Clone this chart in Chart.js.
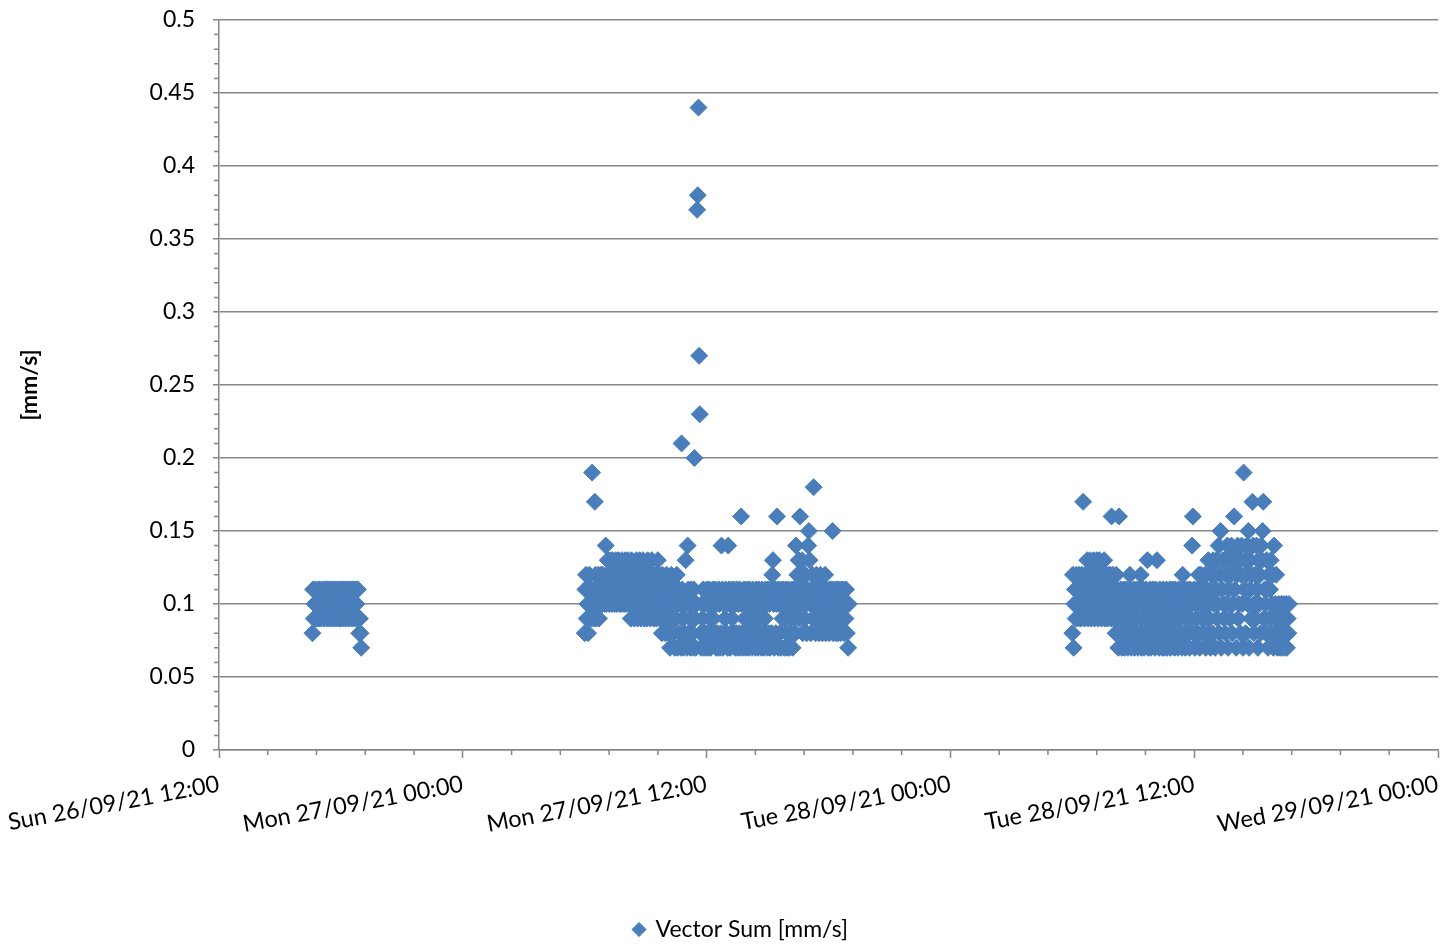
<!DOCTYPE html>
<html>
<head>
<meta charset="utf-8">
<script src="https://cdn.jsdelivr.net/npm/chart.js@4/dist/chart.umd.min.js"></script>
<style>
  html, body { margin: 0; padding: 0; background: #ffffff; }
  #wrap { width: 1443px; height: 946px; position: relative; }
</style>
</head>
<body>
<div id="wrap"><canvas id="c" width="1443" height="946"></canvas></div>
<script>
// ---------------- DATA ----------------
const seriesLabel = 'Vector Sum [mm/s]';
const yAxisTitle = '[mm/s]';
const xTickLabels = [
  'Sun 26/09/21 12:00', 'Mon 27/09/21 00:00', 'Mon 27/09/21 12:00',
  'Tue 28/09/21 00:00', 'Tue 28/09/21 12:00', 'Wed 29/09/21 00:00'
];
const axisOrigin = '26 12:00';          // day-of-month + time at x = 0
const axisSpanHours = 60;
const sampleStepMinutes = 2;            // logger interval

// Run 1: Sun 26/09 16:36 - 19:00 (every 2 min)
const run1Start = '26 16:36';
const run1Values = [
  0.08, 0.11, 0.09, 0.10, 0.11, 0.09, 0.10, 0.09, 0.11, 0.10, 0.09, 0.11, 0.10, 0.09, 0.10,
  0.11, 0.10, 0.09, 0.11, 0.10, 0.11, 0.09, 0.10, 0.11, 0.09, 0.10, 0.11, 0.10, 0.09, 0.11,
  0.10, 0.09, 0.11, 0.10, 0.11, 0.09, 0.10, 0.11, 0.10, 0.09, 0.11, 0.10, 0.09, 0.11, 0.10,
  0.11, 0.09, 0.10, 0.11, 0.10, 0.09, 0.11, 0.10, 0.11, 0.09, 0.10, 0.11, 0.10, 0.09, 0.11,
  0.10, 0.11, 0.09, 0.10, 0.11, 0.10, 0.09, 0.11, 0.09, 0.08, 0.09, 0.08, 0.07
];

// Run 2: Mon 27/09 06:00 - 19:00 (every 2 min)
const run2Start = '27 06:00';
const run2Values = [
  0.08, 0.11, 0.12, 0.09, 0.10, 0.08, 0.11, 0.12, 0.10, 0.09, 0.11, 0.19, 0.10, 0.09, 0.11,
  0.17, 0.12, 0.09, 0.11, 0.10, 0.12, 0.09, 0.11, 0.10, 0.12, 0.11, 0.10, 0.12, 0.11, 0.10,
  0.11, 0.14, 0.10, 0.12, 0.13, 0.11, 0.10, 0.12, 0.13, 0.11, 0.10, 0.13, 0.12, 0.11, 0.10,
  0.12, 0.13, 0.10, 0.11, 0.12, 0.13, 0.10, 0.11, 0.12, 0.10, 0.13, 0.11, 0.12, 0.10, 0.11,
  0.13, 0.10, 0.12, 0.11, 0.13, 0.10, 0.12, 0.11, 0.09, 0.13, 0.10, 0.12, 0.11, 0.09, 0.12,
  0.10, 0.13, 0.11, 0.09, 0.12, 0.10, 0.13, 0.11, 0.09, 0.12, 0.10, 0.13, 0.11, 0.09, 0.12,
  0.10, 0.12, 0.09, 0.13, 0.11, 0.10, 0.12, 0.09, 0.11, 0.13, 0.10, 0.12, 0.09, 0.11, 0.10,
  0.12, 0.09, 0.11, 0.13, 0.10, 0.12, 0.09, 0.11, 0.10, 0.08, 0.12, 0.11, 0.09, 0.10, 0.08,
  0.11, 0.12, 0.09, 0.10, 0.08, 0.11, 0.07, 0.10, 0.12, 0.09, 0.11, 0.08, 0.10, 0.07, 0.11,
  0.09, 0.12, 0.07, 0.10, 0.11, 0.08, 0.10, 0.07, 0.21, 0.11, 0.09, 0.07, 0.10, 0.08, 0.13,
  0.10, 0.07, 0.14, 0.11, 0.08, 0.09, 0.07, 0.11, 0.10, 0.08, 0.07, 0.11, 0.20, 0.09, 0.07,
  0.10, 0.37, 0.38, 0.44, 0.27, 0.23, 0.08, 0.07, 0.10, 0.09, 0.11, 0.07, 0.08, 0.10, 0.07,
  0.11, 0.08, 0.10, 0.07, 0.11, 0.09, 0.07, 0.10, 0.08, 0.11, 0.09, 0.10, 0.08, 0.11, 0.07,
  0.10, 0.08, 0.07, 0.11, 0.10, 0.07, 0.08, 0.14, 0.11, 0.07, 0.10, 0.08, 0.09, 0.11, 0.10,
  0.08, 0.07, 0.14, 0.11, 0.10, 0.07, 0.08, 0.11, 0.09, 0.10, 0.08, 0.11, 0.07, 0.10, 0.08,
  0.11, 0.07, 0.10, 0.08, 0.11, 0.07, 0.16, 0.10, 0.08, 0.07, 0.11, 0.09, 0.10, 0.07, 0.11,
  0.08, 0.10, 0.07, 0.11, 0.09, 0.08, 0.10, 0.07, 0.11, 0.08, 0.09, 0.10, 0.07, 0.11, 0.08,
  0.10, 0.07, 0.11, 0.09, 0.08, 0.10, 0.07, 0.11, 0.08, 0.10, 0.07, 0.09, 0.11, 0.08, 0.10,
  0.07, 0.11, 0.08, 0.10, 0.07, 0.11, 0.08, 0.12, 0.13, 0.10, 0.07, 0.11, 0.08, 0.10, 0.16,
  0.11, 0.07, 0.10, 0.08, 0.11, 0.07, 0.10, 0.09, 0.11, 0.09, 0.07, 0.10, 0.11, 0.08, 0.07,
  0.10, 0.11, 0.07, 0.09, 0.10, 0.08, 0.11, 0.07, 0.10, 0.11, 0.09, 0.08, 0.14, 0.10, 0.12,
  0.11, 0.13, 0.09, 0.16, 0.12, 0.10, 0.13, 0.08, 0.11, 0.12, 0.09, 0.12, 0.10, 0.08, 0.11,
  0.14, 0.15, 0.13, 0.10, 0.08, 0.11, 0.12, 0.09, 0.18, 0.10, 0.11, 0.08, 0.12, 0.09, 0.10,
  0.11, 0.08, 0.10, 0.12, 0.09, 0.11, 0.08, 0.10, 0.11, 0.09, 0.12, 0.08, 0.10, 0.11, 0.09,
  0.10, 0.08, 0.11, 0.09, 0.10, 0.11, 0.15, 0.08, 0.10, 0.11, 0.09, 0.08, 0.10, 0.11, 0.08,
  0.11, 0.09, 0.10, 0.08, 0.11, 0.10, 0.09, 0.11, 0.08, 0.10, 0.09, 0.11, 0.08, 0.10, 0.07,
  0.10
];

// Run 3: Tue 28/09 06:00 - 16:40 (every 2 min)
const run3Start = '28 06:00';
const run3Values = [
  0.08, 0.12, 0.07, 0.10, 0.11, 0.09, 0.12, 0.10, 0.11, 0.09, 0.12, 0.10, 0.11, 0.09, 0.12,
  0.10, 0.17, 0.11, 0.09, 0.12, 0.10, 0.11, 0.13, 0.09, 0.12, 0.10, 0.13, 0.11, 0.09, 0.12,
  0.10, 0.13, 0.11, 0.09, 0.12, 0.10, 0.13, 0.11, 0.09, 0.12, 0.13, 0.10, 0.11, 0.09, 0.12,
  0.10, 0.11, 0.13, 0.09, 0.12, 0.10, 0.11, 0.09, 0.12, 0.10, 0.11, 0.12, 0.09, 0.16, 0.10,
  0.12, 0.09, 0.11, 0.10, 0.08, 0.12, 0.09, 0.11, 0.07, 0.16, 0.10, 0.08, 0.11, 0.07, 0.10,
  0.09, 0.11, 0.07, 0.10, 0.08, 0.11, 0.09, 0.07, 0.10, 0.08, 0.12, 0.11, 0.07, 0.09, 0.10,
  0.08, 0.11, 0.07, 0.10, 0.09, 0.11, 0.08, 0.07, 0.10, 0.11, 0.08, 0.12, 0.07, 0.09, 0.10,
  0.11, 0.07, 0.10, 0.08, 0.11, 0.09, 0.13, 0.07, 0.10, 0.08, 0.11, 0.07, 0.09, 0.10, 0.11,
  0.08, 0.10, 0.07, 0.11, 0.09, 0.13, 0.08, 0.10, 0.07, 0.11, 0.09, 0.08, 0.10, 0.07, 0.11,
  0.09, 0.07, 0.10, 0.08, 0.11, 0.07, 0.09, 0.10, 0.08, 0.11, 0.07, 0.10, 0.09, 0.11, 0.08,
  0.10, 0.07, 0.11, 0.09, 0.08, 0.10, 0.07, 0.11, 0.08, 0.10, 0.09, 0.11, 0.07, 0.12, 0.10,
  0.08, 0.11, 0.07, 0.10, 0.09, 0.11, 0.08, 0.10, 0.07, 0.11, 0.09, 0.10, 0.14, 0.16, 0.08,
  0.11, 0.07, 0.10, 0.09, 0.11, 0.08, 0.10, 0.12, 0.07, 0.11, 0.12, 0.09, 0.10, 0.08, 0.11,
  0.09, 0.12, 0.07, 0.10, 0.11, 0.08, 0.13, 0.09, 0.10, 0.07, 0.12, 0.11, 0.08, 0.13, 0.10,
  0.12, 0.07, 0.11, 0.13, 0.09, 0.10, 0.14, 0.08, 0.12, 0.15, 0.07, 0.11, 0.13, 0.10, 0.09,
  0.13, 0.08, 0.12, 0.10, 0.14, 0.07, 0.11, 0.13, 0.09, 0.12, 0.14, 0.08, 0.10, 0.13, 0.16,
  0.11, 0.13, 0.07, 0.12, 0.14, 0.09, 0.10, 0.13, 0.08, 0.12, 0.14, 0.10, 0.07, 0.19, 0.11,
  0.13, 0.08, 0.12, 0.14, 0.10, 0.15, 0.07, 0.13, 0.11, 0.09, 0.12, 0.17, 0.14, 0.08, 0.10,
  0.12, 0.09, 0.14, 0.11, 0.07, 0.13, 0.10, 0.12, 0.08, 0.14, 0.13, 0.15, 0.17, 0.09, 0.11,
  0.10, 0.08, 0.13, 0.11, 0.07, 0.12, 0.09, 0.11, 0.13, 0.08, 0.10, 0.12, 0.07, 0.14, 0.09,
  0.10, 0.12, 0.08, 0.07, 0.09, 0.10, 0.08, 0.07, 0.09, 0.10, 0.07, 0.08, 0.10, 0.09, 0.07,
  0.08, 0.10, 0.07, 0.09, 0.08, 0.10
];

// ---------------- BUILD ----------------
function hoursOf(stamp) {
  const [d, hm] = stamp.split(' ');
  const [h, m] = hm.split(':').map(Number);
  return Number(d) * 24 + h + m / 60;
}
const originH = hoursOf(axisOrigin);
function runPoints(start, values) {
  const t0 = hoursOf(start) - originH;
  return values.map((v, i) => ({ x: t0 + i * sampleStepMinutes / 60, y: v }));
}
const points = [
  ...runPoints(run1Start, run1Values),
  ...runPoints(run2Start, run2Values),
  ...runPoints(run3Start, run3Values)
];

const AXIS = '#878787';
const BLUE = '#4A7EBB';
const FONT = 'Lato, "Open Sans", sans-serif';

const minorTicks = {
  id: 'minorTicks',
  afterDraw(chart) {
    const { ctx, scales: { x, y } } = chart;
    ctx.save();
    ctx.strokeStyle = AXIS;
    ctx.lineWidth = 1.5;
    ctx.beginPath();
    for (let k = 1; k < 25; k++) {
      if (k % 5 === 0) continue;
      const px = x.getPixelForValue(k * axisSpanHours / 25);
      ctx.moveTo(px, y.bottom);
      ctx.lineTo(px, y.bottom + 5);
    }
    for (let k = 1; k < 50; k++) {
      if (k % 5 === 0) continue;
      const py = y.getPixelForValue(k * 0.01);
      ctx.moveTo(x.left, py);
      ctx.lineTo(x.left - 5, py);
    }
    ctx.stroke();
    ctx.restore();
  }
};

// legend sits slightly right of the canvas centre in the original
const legendShift = {
  id: 'legendShift',
  afterLayout(chart) {
    const l = chart.legend;
    if (l) { l.left += 22; l.right += 22; }
  }
};

new Chart(document.getElementById('c'), {
  type: 'scatter',
  data: {
    datasets: [{
      label: seriesLabel,
      data: points,
      pointStyle: 'rectRot',
      pointRadius: 8.5,
      pointBackgroundColor: BLUE,
      pointBorderColor: BLUE,
      pointBorderWidth: 1
    }]
  },
  options: {
    responsive: false,
    animation: false,
    devicePixelRatio: 1,
    layout: { autoPadding: false, padding: { left: 0, right: 5, top: 20, bottom: -5 } },
    plugins: {
      legend: {
        position: 'bottom',
        labels: {
          usePointStyle: true,
          pointStyle: 'rectRot',
          boxWidth: 10,
          boxHeight: 10,
          padding: 6,
          color: '#000',
          font: { family: FONT, size: 23 }
        }
      },
      tooltip: { enabled: false }
    },
    scales: {
      x: {
        type: 'linear',
        min: 0,
        max: axisSpanHours,
        afterBuildTicks: (s) => { s.ticks = xTickLabels.map((_, i) => ({ value: i * 12 })); },
        afterFit: (s) => { s.height = 162; s.paddingLeft = 0; s.paddingRight = 0; },
        ticks: {
          autoSkip: false,
          minRotation: 10.5,
          maxRotation: 10.5,
          padding: 12,
          color: '#000',
          font: { family: FONT, size: 23.5 },
          callback: (v, i) => xTickLabels[i]
        },
        grid: { drawOnChartArea: false, tickLength: 8, tickColor: AXIS, tickWidth: 1.5 },
        border: { color: AXIS, width: 1.5 }
      },
      y: {
        min: 0,
        max: 0.5,
        afterFit: (s) => { s.width = 219; s.paddingTop = 0; s.paddingBottom = 0; },
        ticks: {
          stepSize: 0.05,
          padding: 18,
          color: '#000',
          font: { family: FONT, size: 23 },
          callback: (v) => String(+v.toFixed(2))
        },
        grid: { color: AXIS, lineWidth: 1.5, tickLength: 6, tickColor: AXIS, tickWidth: 1.5 },
        border: { color: AXIS, width: 1.5 },
        title: {
          display: true,
          text: yAxisTitle,
          color: '#000',
          padding: { top: 16, bottom: 0 },
          font: { family: FONT, size: 23, weight: 'bold' }
        }
      }
    }
  },
  plugins: [minorTicks, legendShift]
});
</script>
</body>
</html>
